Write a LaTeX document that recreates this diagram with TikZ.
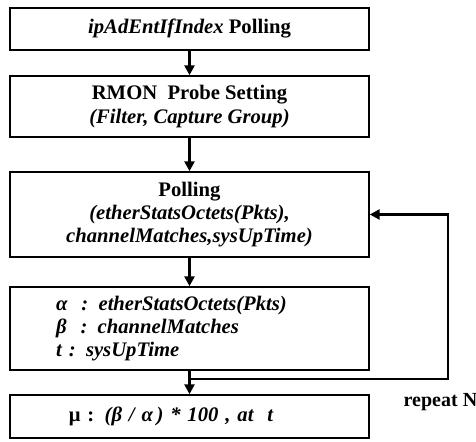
\documentclass[tikz,border=0pt]{standalone}
\usepackage{fontspec}
\setmainfont{Liberation Serif}
\usepackage{tikz}
\usetikzlibrary{arrows.meta}

\tikzset{
  box/.style={draw, line width=1.1pt, minimum width=269.25pt, inner sep=0pt, align=center},
  listbox/.style={box, align=left},
  flow/.style={->, line width=2.2pt},
}

\begin{document}
\begin{tikzpicture}[x=0.75pt,y=-0.75pt,>={Triangle[length=7.5pt,width=7.5pt]}, font=\fontsize{15.5}{17.5}\selectfont\bfseries]
  \def\cx{189.5}

  \useasboundingbox (0,0) rectangle (476,442);

  % Boxes
  \node[box, minimum height=31.5pt] (index) at (\cx,29) {\textit{ipAdEntIfIndex} Polling};
  \node[box, minimum height=45.75pt] (probe) at (\cx,106.5)
    {RMON\ \ Probe Setting\\\textit{(Filter, Capture Group)}};
  \node[box, minimum height=63.75pt] (poll) at (\cx,214.5)
    {Polling\\\textit{(etherStatsOctets(Pkts),}\\\textit{channelMatches,sysUpTime)}};
  \node[listbox, minimum height=62.25pt, text width=200pt, inner xsep=34.6pt] (vars) at (\cx,328.5)
    {\textit{α\ \ : etherStatsOctets(Pkts)}\\\textit{β\ \ : channelMatches}\\\textit{t : sysUpTime}};
  \node[listbox, minimum height=32.25pt, text width=181pt, inner xsep=44.1pt] (rate) at (\cx,416.5)
    {μ : \textit{(β\ / α\,) * 100 , at\ \ t}};

  % Flow
  \draw[flow] (index) -- (probe);
  \draw[flow] (probe) -- (poll);
  \draw[flow] (poll) -- (vars);
  \draw[flow] (vars) -- (rate);

  % Repeat loop
  \coordinate (fork) at (\cx,379);
  \coordinate (turn) at (448,379);
  \draw[flow] (fork) -- (turn) |- (poll.east);
  \node[anchor=base west, font=\fontsize{15}{17}\selectfont\bfseries] (repeat) at (399,407) {repeat N};
\end{tikzpicture}
\end{document}
